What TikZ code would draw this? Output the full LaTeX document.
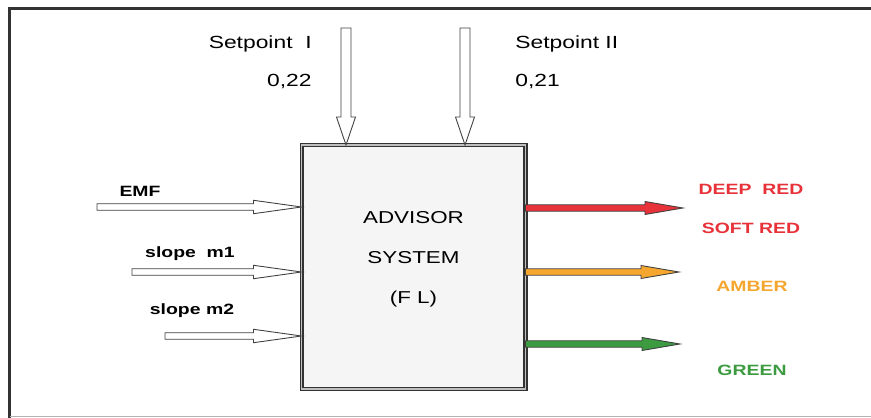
\documentclass[tikz,border=0pt]{standalone}
\usepackage{fontspec}
\setmainfont{Liberation Sans}[FakeStretch=1.3]
\usepackage{tikz}
\usetikzlibrary{positioning}
\usetikzlibrary{calc}
\definecolor{redc}{HTML}{E8323A}
\definecolor{amberc}{HTML}{F5A62E}
\definecolor{greenc}{HTML}{3C9A40}

\tikzset{
  blockarrow/.style n args={4}{draw=black!75, line width=0.5pt, fill=#1,
    to path={let \p1=($(\tikztotarget)!#4!(\tikztostart)$) in
      -- ($(\tikztostart)!#2!90:(\tikztotarget)$)
      -- ($(\p1)!#2!90:(\tikztotarget)$)
      -- ($(\p1)!#3!90:(\tikztotarget)$)
      -- (\tikztotarget)
      -- ($(\p1)!#3!-90:(\tikztotarget)$)
      -- ($(\p1)!#2!-90:(\tikztotarget)$)
      -- ($(\tikztostart)!#2!-90:(\tikztotarget)$)
      -- cycle}},
  inarrow/.style={blockarrow={white}{0.066cm}{0.134cm}{0.96cm}},
  setarrow/.style={blockarrow={white}{0.1cm}{0.19cm}{0.56cm}},
  outarrow/.style={blockarrow={#1}{0.064cm}{0.13cm}{0.76cm}},
  plainlabel/.style={inner sep=0pt, font=\fontsize{10}{12}\selectfont},
  boldlabel/.style={inner sep=0pt, font=\bfseries\fontsize{8.5}{10}\selectfont}
}

\begin{document}
\begin{tikzpicture}[x=0.02cm, y=-0.02cm]
\useasboundingbox (0,0) rectangle (871,418);
% frame
\draw[black!80, line width=1.7pt] (9.5,418) -- (9.5,8.5) -- (871,8.5);
\draw[black!30, line width=0.9pt] (9.5,416.5) -- (871,416.5);

\node[draw=black!80, double=black!25, double distance=0.7pt, line width=0.8pt, fill=black!4,
  shape=rectangle, outer sep=0pt, minimum width=4.48cm, minimum height=4.88cm]
(advisor) at (413.5,267) {};
\node[align=center, font=\fontsize{9.8}{22.7}\selectfont] (advisortext) at (413.5,259.5)
{ADVISOR\\SYSTEM\\(F L)};

% setpoints
\node[plainlabel, anchor=base east] (sp1label) at (312,49) {Setpoint\ \ I};
\node[plainlabel, anchor=base east] (sp1value) at (312,87) {0,22};
\node[plainlabel, anchor=base west] (sp2label) at (515,49) {Setpoint II};
\node[plainlabel, anchor=base west] (sp2value) at (515,87) {0,21};
\coordinate (sp1) at (346,28);
\coordinate (sp2) at (465,28);
\draw[setarrow] (sp1) to (advisor.north -| sp1);
\draw[setarrow] (sp2) to (advisor.north -| sp2);

% inputs
\node[boldlabel, anchor=base] (emflabel) at (140,197) {EMF};
\node[boldlabel, anchor=base] (m1label) at (190,257) {slope\ \ m1};
\node[boldlabel, anchor=base] (m2label) at (192,314) {slope m2};
\coordinate (emf) at (97,207);
\coordinate (m1) at (132,272);
\coordinate (m2) at (165,336);
\draw[inarrow] (emf) to (advisor.west |- emf);
\draw[inarrow] (m1) to (advisor.west |- m1);
\draw[inarrow] (m2) to (advisor.west |- m2);

% outputs
\coordinate (deepred) at (683,208);
\coordinate (amber) at (679,272);
\coordinate (green) at (680,344);
\draw[outarrow=redc] (advisor.east |- deepred) to (deepred);
\draw[outarrow=amberc] (advisor.east |- amber) to (amber);
\draw[outarrow=greenc] (advisor.east |- green) to (green);
\node[boldlabel, text=redc, anchor=base] (deepredlabel) at (751,194.5) {DEEP\ \ RED};
\node[boldlabel, text=redc, anchor=base] (softredlabel) at (751,233.5) {SOFT RED};
\node[boldlabel, text=amberc, anchor=base] (amberlabel) at (752,291.5) {AMBER};
\node[boldlabel, text=greenc, anchor=base] (greenlabel) at (752,375.5) {GREEN};

\end{tikzpicture}
\end{document}
